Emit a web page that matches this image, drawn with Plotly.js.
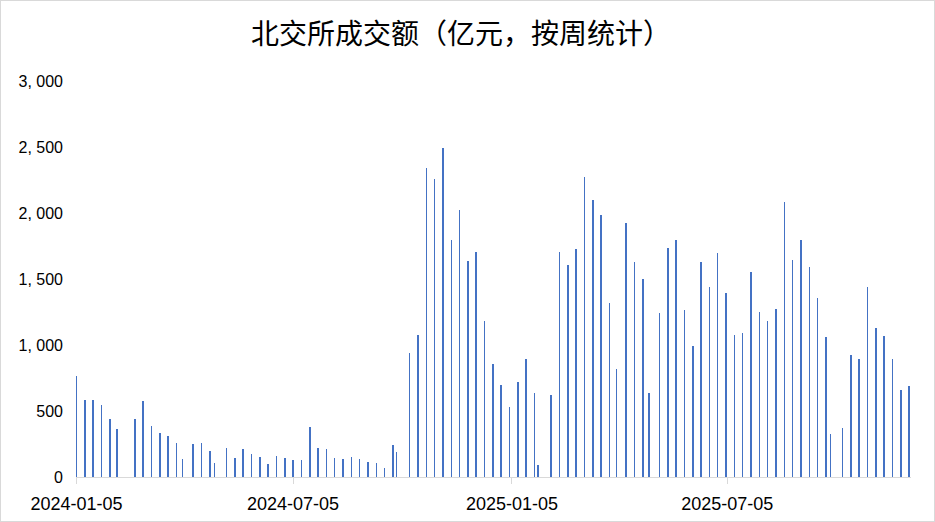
<!DOCTYPE html>
<html>
<head>
<meta charset="utf-8">
<script src="https://cdn.plot.ly/plotly-3.0.1.min.js"></script>
<style>
  html, body { margin: 0; padding: 0; background: #ffffff; }
  #wrap { width: 935px; height: 522px; box-sizing: border-box; border: 1px solid #d9d9d9; background: #fff; }
  #chart { width: 933px; height: 520px; }
</style>
</head>
<body>
<div id="wrap"><div id="chart"></div></div>
<script>
const weekDates = [
  "2024-01-05","2024-01-12","2024-01-19","2024-01-26","2024-02-02","2024-02-08","2024-02-23","2024-03-01",
  "2024-03-08","2024-03-15","2024-03-22","2024-03-29","2024-04-03","2024-04-12","2024-04-19","2024-04-26",
  "2024-04-30","2024-05-10","2024-05-17","2024-05-24","2024-05-31","2024-06-07","2024-06-14","2024-06-21",
  "2024-06-28","2024-07-05","2024-07-12","2024-07-19","2024-07-26","2024-08-02","2024-08-09","2024-08-16",
  "2024-08-23","2024-08-30","2024-09-06","2024-09-13","2024-09-20","2024-09-27","2024-09-30","2024-10-11",
  "2024-10-18","2024-10-25","2024-11-01","2024-11-08","2024-11-15","2024-11-22","2024-11-29","2024-12-06",
  "2024-12-13","2024-12-20","2024-12-27","2025-01-03","2025-01-10","2025-01-17","2025-01-24","2025-01-27",
  "2025-02-07","2025-02-14","2025-02-21","2025-02-28","2025-03-07","2025-03-14","2025-03-21","2025-03-28",
  "2025-04-03","2025-04-11","2025-04-18","2025-04-25","2025-04-30","2025-05-09","2025-05-16","2025-05-23",
  "2025-05-30","2025-06-06","2025-06-13","2025-06-20","2025-06-27","2025-07-04","2025-07-11","2025-07-18",
  "2025-07-25","2025-08-01","2025-08-08","2025-08-15","2025-08-22","2025-08-29","2025-09-05","2025-09-12",
  "2025-09-19","2025-09-26","2025-09-30","2025-10-10","2025-10-17","2025-10-24","2025-10-31","2025-11-07",
  "2025-11-14","2025-11-21","2025-11-28","2025-12-05"
];
const turnover = [
  765, 581, 581, 543, 437, 361, 437, 573,
  384, 331, 308, 255, 134, 248, 255, 195,
  104, 217, 143, 212, 174, 152, 98, 159,
  144, 129, 129, 379, 220, 212, 144, 136,
  152, 136, 114, 106, 68, 242, 189, 939,
  1076, 2341, 2258, 2492, 1795, 2023, 1636, 1705,
  1182, 856, 697, 530, 720, 894, 636, 91,
  621, 1705, 1606, 1727, 2273, 2098, 1985, 1318,
  818, 1924, 1629, 1500, 636, 1242, 1735, 1795,
  1265, 992, 1629, 1439, 1697, 1394, 1076, 1091,
  1553, 1250, 1182, 1273, 2083, 1644, 1795, 1591,
  1356, 1061, 326, 371, 924, 894, 1439, 1129,
  1068, 894, 659, 689
];
const xTickVals = ["2024-01-05", "2024-07-05", "2025-01-05", "2025-07-05"];
const xTickText = ["2024-01-05", "2024-07-05", "2025-01-05", "2025-07-05"];
const yTickVals = [0, 500, 1000, 1500, 2000, 2500, 3000];
const yTickText = ["0", "500", "1, 000", "1, 500", "2, 000", "2, 500", "3, 000"];
const chartTitle = "北交所成交额（亿元，按周统计）";

const trace = {
  type: "bar",
  x: weekDates,
  y: turnover,
  width: weekDates.map(() => 1.3 * 86400000),
  marker: { color: "#4472C4", line: { width: 0 } },
  hoverinfo: "x+y"
};

const layout = {
  width: 933,
  height: 520,
  paper_bgcolor: "#ffffff",
  plot_bgcolor: "#ffffff",
  margin: { l: 75, r: 23, t: 80, b: 44, pad: 0 },
  showlegend: false,
  title: {
    text: chartTitle,
    font: { family: "Noto Sans CJK SC, sans-serif", size: 28, color: "#000000" },
    x: 460 / 933, xanchor: "center", xref: "container",
    y: 1 - 33.5 / 520, yanchor: "middle", yref: "container"
  },
  xaxis: {
    type: "date",
    range: ["2024-01-04 12:00", "2025-12-06 12:00"],
    tickmode: "array",
    tickvals: xTickVals,
    ticktext: xTickText,
    ticks: "outside",
    ticklen: 6,
    tickcolor: "#d9d9d9",
    tickwidth: 1,
    showline: true,
    linecolor: "#d9d9d9",
    linewidth: 1,
    showgrid: false,
    zeroline: false,
    tickfont: { family: "Liberation Sans, Arial, sans-serif", size: 18, color: "#000000" },
    ticklabelstandoff: 4,
    fixedrange: true
  },
  yaxis: {
    range: [0, 3000],
    tickmode: "array",
    tickvals: yTickVals,
    ticktext: yTickText,
    ticks: "",
    showline: false,
    showgrid: false,
    zeroline: false,
    tickfont: { family: "Liberation Sans, Arial, sans-serif", size: 16, color: "#000000" },
    ticklabelstandoff: 12,
    fixedrange: true
  },
  bargap: 0
};

Plotly.newPlot("chart", [trace], layout, { displayModeBar: false, staticPlot: true });
</script>
</body>
</html>
